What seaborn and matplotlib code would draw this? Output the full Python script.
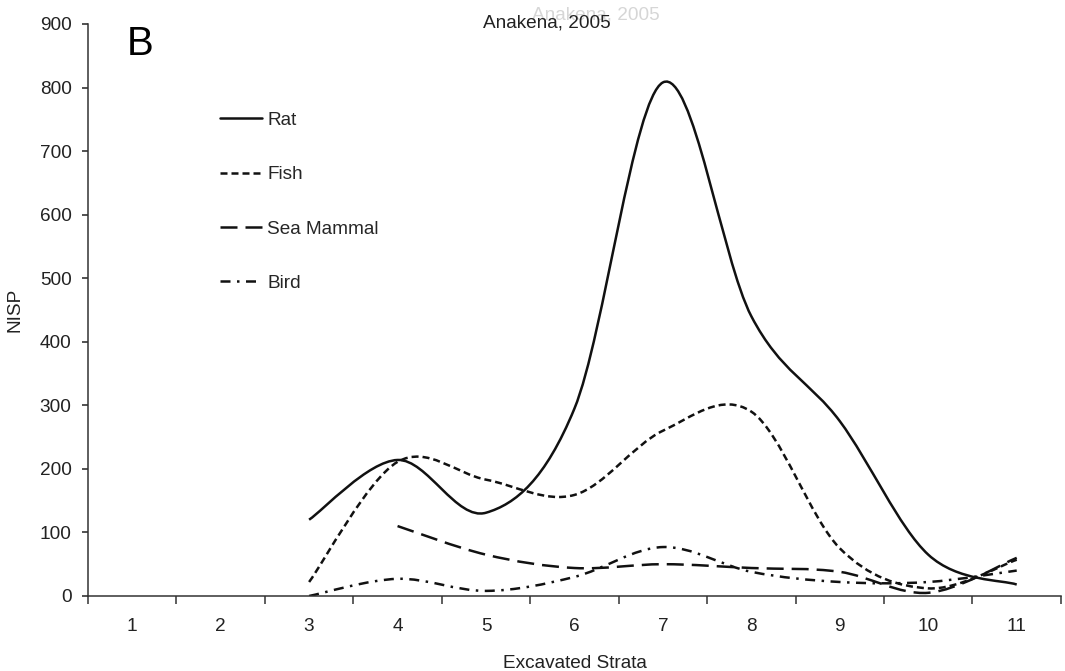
import numpy as np
import matplotlib
matplotlib.use("Agg")
import matplotlib.pyplot as plt
from matplotlib.path import Path
from matplotlib.patches import PathPatch
from matplotlib.lines import Line2D
import seaborn as sns

# values (NISP per excavated stratum)
strata = [1, 2, 3, 4, 5, 6, 7, 8, 9, 10, 11]
rat_x = [3, 4, 5, 6, 7, 8, 9, 10, 11]
rat = [120, 214, 131, 295, 808, 440, 275, 65, 18]
fish_x = [3, 4, 5, 6, 7, 8, 9, 10, 11]
fish = [22, 211, 183, 159, 260, 290, 75, 12, 57]
sea_mammal_x = [4, 5, 6, 7, 8, 9, 10, 11]
sea_mammal = [110, 65, 44, 50, 44, 38, 5, 60]
bird_x = [3, 4, 5, 6, 7, 8, 9, 10, 11]
bird = [0, 27, 8, 30, 77, 38, 22, 22, 40]

sns.set_theme(style="ticks")
plt.rcParams['font.family'] = ['Liberation Sans', 'DejaVu Sans']
fs = 13.7


def smooth_path(xs, ys):
    # Excel-style smoothed line: cubic bezier through each data point
    p = np.column_stack([xs, ys]).astype(float)
    n = len(p)
    verts = [p[0]]
    codes = [Path.MOVETO]
    for i in range(n - 1):
        p0 = p[max(i - 1, 0)]
        p1 = p[i]
        p2 = p[i + 1]
        p3 = p[min(i + 2, n - 1)]
        verts += [p1 + (p2 - p0) / 6, p2 - (p3 - p1) / 6, p2]
        codes += [Path.CURVE4] * 3
    return Path(verts, codes)


fig = plt.figure(figsize=(10.65, 6.71), dpi=100)
ax = fig.add_axes([0.0826, 0.1118, 0.9136, 0.8525])

lw = 1.8
series = [
    ("Rat", rat_x, rat, "-"),
    ("Fish", fish_x, fish, (0, (2.8, 1.6))),
    ("Sea Mammal", sea_mammal_x, sea_mammal, (0, (6.8, 3.2))),
    ("Bird", bird_x, bird, (0, (4.0, 2.6, 1.0, 2.6))),
]
handles = []
for name, xs, ys, ls in series:
    ax.add_patch(PathPatch(smooth_path(xs, ys), fill=False, edgecolor="#111111",
                           lw=lw, linestyle=ls, capstyle="butt"))
    handles.append(Line2D([], [], color="#111111", lw=lw, linestyle=ls, label=name))

ax.set_xlim(0.5, 11.5)
ax.set_ylim(0, 900)
ax.set_yticks(range(0, 901, 100))
ax.set_xticks(strata)
ax.set_xticks(np.arange(0.5, 11.6, 1), minor=True)
ax.tick_params(axis="x", which="major", length=0, labelsize=fs, pad=16, colors="#222222")
ax.tick_params(axis="x", which="minor", length=6, width=1.1, direction="out", color="#333333")
ax.tick_params(axis="y", length=4.3, width=1.1, labelsize=fs, pad=7.5, colors="#222222")
for s in ["left", "bottom"]:
    ax.spines[s].set_color("#333333")
    ax.spines[s].set_linewidth(1.1)
sns.despine(ax=ax)

ax.set_xlabel("Excavated Strata", fontsize=fs, color="#222222")
ax.set_ylabel("NISP", fontsize=fs, color="#222222")
ax.xaxis.set_label_coords(0.5, -0.103)
ax.yaxis.set_label_coords(-0.066, 0.5)

ax.legend(handles=handles, loc="upper left", bbox_to_anchor=(0.198, 0.848),
          bbox_transform=fig.transFigure, frameon=False, fontsize=fs,
          handlelength=2.2, handletextpad=0.25, labelspacing=1.95, borderpad=0)

fig.text(0.559, 0.978, "Anakena, 2005", fontsize=fs, color="#d6d6d6", ha="center", va="center")
fig.text(0.513, 0.966, "Anakena, 2005", fontsize=fs, color="#222222", ha="center", va="center")
fig.text(0.119, 0.918, "B", fontsize=29, color="black", va="baseline")

fig.savefig("out.png", dpi=100)
